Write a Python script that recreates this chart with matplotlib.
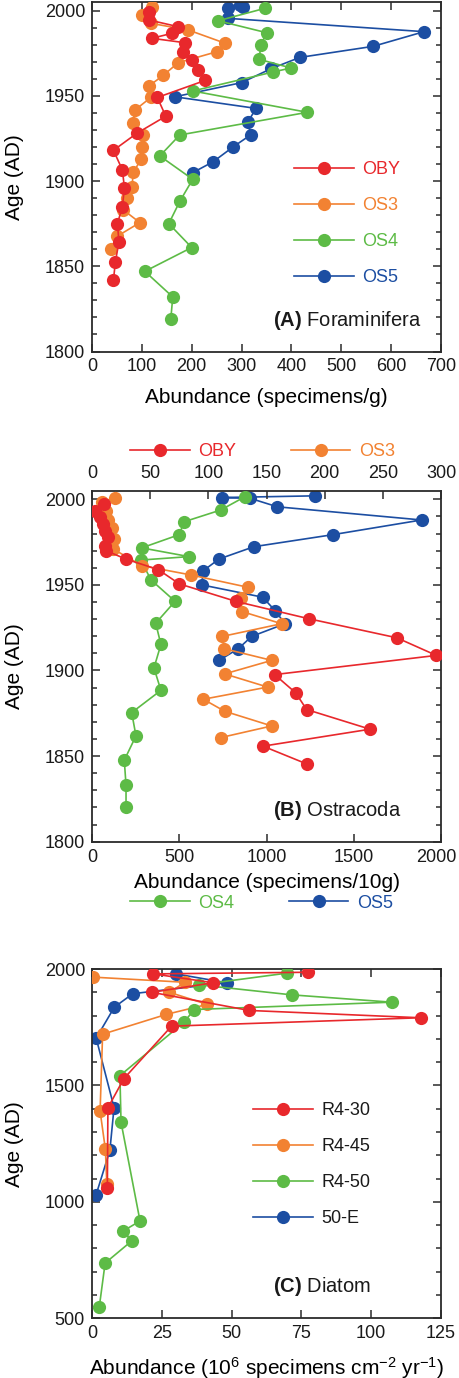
import matplotlib
matplotlib.use('Agg')
import matplotlib.pyplot as plt
from matplotlib.ticker import MultipleLocator
from matplotlib.transforms import ScaledTranslation

plt.rcParams['font.family'] = ['Liberation Sans', 'DejaVu Sans']
plt.rcParams['mathtext.fontset'] = 'custom'
plt.rcParams['mathtext.rm'] = 'Liberation Sans'
plt.rcParams['mathtext.it'] = 'Liberation Sans:italic'
plt.rcParams['mathtext.bf'] = 'Liberation Sans:bold'

# ---------------- data ----------------
# Panel A: Foraminifera (specimens/g)
oby_a_age = [1999.3, 1994.4, 1990.5, 1986.6, 1983.7, 1981.1, 1975.8, 1971, 1965, 1959, 1949, 1938,
             1928, 1918, 1906.5, 1896, 1885, 1875, 1864.4, 1852.7, 1842]
oby_a_val = [115, 115, 173, 160, 120, 187, 183, 200, 213, 227, 131, 148,
             90, 43, 61, 65, 61, 51, 54, 47, 43]
os3_a_age = [2001.9, 1997.4, 1992.5, 1988.6, 1980.8, 1975.8, 1969.4, 1962, 1955.7, 1949, 1941.6,
             1934.2, 1927, 1920, 1912.7, 1905, 1896.7, 1890, 1883, 1875.6, 1867.7, 1860]
os3_a_val = [120, 100, 118, 193, 267, 250, 173, 143, 114, 118, 86,
             82, 103, 100, 98, 83, 80, 70, 63, 96, 51, 38]
os4_a_age = [2001.3, 1994, 1987, 1979.8, 1971.4, 1966.3, 1964, 1952.8, 1940.3, 1927, 1914.7,
             1901, 1888, 1875, 1861, 1847, 1832, 1819]
os4_a_val = [347, 253, 350, 339, 335, 399, 364, 202, 432, 176, 136,
             202, 176, 154, 200, 106, 162, 158]
os5_a_age = [2003.2, 2001.9, 2001.3, 1995.4, 1987.6, 1979, 1972.5, 1966, 1957.7, 1949.4, 1942.6,
             1934.8, 1927, 1920, 1911.3, 1904.9]
os5_a_val = [297, 303, 273, 273, 666, 564, 417, 360, 300, 166, 329,
             313, 318, 283, 243, 202]

# Panel B: Ostracoda (specimens/10g); OBY & OS3 on top axis, OS4 & OS5 on bottom axis
oby_b_age = [1997.2, 1993.3, 1989.4, 1985.5, 1981.6, 1977.7, 1972.9, 1970, 1965.1, 1958.9, 1950.6,
             1940.3, 1930.2, 1919.1, 1908.8, 1897.6, 1887, 1877.2, 1865.7, 1855.8, 1845.3]
oby_b_val = [10.6, 2.6, 6.9, 9.7, 11.2, 14, 11.2, 12, 29, 57, 75,
             124, 186.5, 262, 296, 157, 175, 184.5, 239, 147, 185]
os3_b_age = [2001, 1998.5, 1993, 1988, 1983, 1977, 1971, 1961.2, 1955.8, 1948.6, 1942.4,
             1934.4, 1927.3, 1919.9, 1912.7, 1905.9, 1898, 1890.3, 1883.2, 1876.2, 1867.6, 1860.8]
os3_b_val = [19.5, 9, 12, 14, 17, 19, 18, 43, 85, 134, 128,
             129, 163, 112, 113.7, 154.5, 114, 151, 95.7, 114, 154.5, 110.6]
os4_b_age = [2001.5, 1993.7, 1986.9, 1979.3, 1971.6, 1966.5, 1964.5, 1952.9, 1940.4, 1927.6,
             1915.2, 1901.5, 1888.4, 1875.4, 1861.8, 1847.6, 1833, 1820]
os4_b_val = [877, 737, 529, 499, 285, 556, 280, 338, 476, 365,
             395, 355, 395, 227.5, 252, 185, 195, 195]
os5_b_age = [2002, 2001, 2000.6, 1995.6, 1987.9, 1979.3, 1972.3, 1965.1, 1958.3, 1950, 1942.8,
             1935, 1927.3, 1919.9, 1912.7, 1905.9]
os5_b_val = [1278, 743, 905, 1062, 1889, 1379, 928, 728, 638, 628.5, 978,
             1049, 1106, 915, 838, 728]

# Panel C: Diatom (10^6 specimens cm^-2 yr^-1)
r430_age = [1986, 1979, 1941, 1900, 1822, 1790.6, 1754.6, 1529, 1404, 1059]
r430_val = [77.5, 22, 43.4, 21.4, 56.3, 117.7, 28.5, 11.4, 5.7, 5.5]
r445_age = [1965, 1943, 1900, 1848, 1805, 1720, 1390, 1225, 1078]
r445_val = [0.5, 33.3, 27.7, 41.3, 26.6, 3.8, 2.9, 4.8, 5.3]
r450_age = [1982, 1932, 1889, 1857.5, 1826, 1772, 1542, 1342, 918, 875, 832, 737, 548]
r450_val = [69.7, 38.3, 71.5, 107.3, 36.6, 33, 10, 10.4, 17.2, 11.2, 14.2, 4.7, 2.6]
e50_age = [1979, 1941, 1894, 1836, 1703, 1405, 1221, 1028]
e50_val = [30, 48.2, 14.6, 8, 1.5, 7.9, 6.4, 1.4]

labels_ab = ['OBY', 'OS3', 'OS4', 'OS5']
labels_c = ['R4-30', 'R4-45', 'R4-50', '50-E']
ticks_b_bottom = [0, 500, 1000, 1500, 2000]

RED, ORANGE, GREEN, BLUE = '#E8282C', '#F28232', '#5DBB46', '#1C4EA2'
AXC = '#2b2b2b'
TXT = '#1a1a1a'

# ---------------- figure ----------------
W, H = 459, 1378
fig = plt.figure(figsize=(W / 100, H / 100), dpi=100)


def px_axes(left, top, right, bottom):
    return fig.add_axes([left / W, 1 - bottom / H, (right - left) / W, (bottom - top) / H])


def style(ax, top=True):
    ax.tick_params(which='both', direction='in', top=top, right=True, labelsize=13,
                   width=1.1, color=AXC, labelcolor=TXT, pad=5)
    ax.tick_params(which='major', length=6)
    ax.tick_params(which='minor', length=3.5)
    for s in ax.spines.values():
        s.set_linewidth(1.3)
        s.set_color(AXC)


kw = dict(marker='o', ms=9.5, lw=1.2, mew=0)


def ser(ax, x, y, c, lab, z):
    return ax.plot(x, y, color=c, label=lab, zorder=z, **kw)[0]


# ---- Panel A ----
axA = px_axes(92, 2, 441, 351.5)
hA = [ser(axA, oby_a_val, oby_a_age, RED, labels_ab[0], 5),
      ser(axA, os3_a_val, os3_a_age, ORANGE, labels_ab[1], 3),
      ser(axA, os4_a_val, os4_a_age, GREEN, labels_ab[2], 4),
      ser(axA, os5_a_val, os5_a_age, BLUE, labels_ab[3], 2)]
axA.set_xlim(0, 700)
axA.set_ylim(1800, 2005)
axA.xaxis.set_major_locator(MultipleLocator(100))
axA.yaxis.set_major_locator(MultipleLocator(50))
axA.yaxis.set_minor_locator(MultipleLocator(10))
style(axA)
axA.set_xlabel('Abundance (specimens/g)', fontsize=15, labelpad=9)
axA.set_ylabel('Age (AD)', fontsize=15)
axA.yaxis.set_label_coords(-0.195, 0.5)
axA.legend(handles=hA, loc='center left', bbox_to_anchor=(294 / W, 1 - 223.7 / H),
           bbox_transform=fig.transFigure, frameon=False, fontsize=13, handlelength=3.3,
           handletextpad=0.5, labelspacing=1.05, borderpad=0, borderaxespad=0,
           labelcolor='linecolor', numpoints=1)
fig.text(273 / W, 1 - 320.7 / H, r'$\mathbf{(A)}$ Foraminifera', fontsize=14.5,
         ha='left', va='center', color=TXT)

# ---- Panel B ----
axB = px_axes(92, 490.7, 441, 841.7)
hB4 = ser(axB, os4_b_val, os4_b_age, GREEN, labels_ab[2], 4)
hB5 = ser(axB, os5_b_val, os5_b_age, BLUE, labels_ab[3], 2)
axB.set_xlim(0, 2000)
axB.set_ylim(1800, 2005)
axB.set_xticks(ticks_b_bottom)
axB.set_xticklabels([str(t) for t in ticks_b_bottom])
axB.yaxis.set_major_locator(MultipleLocator(50))
axB.yaxis.set_minor_locator(MultipleLocator(10))
style(axB)
# nudge the last bottom tick label inward so it stays inside the figure
last = axB.get_xticklabels()[-1]
last.set_transform(last.get_transform() + ScaledTranslation(-0.05, 0, fig.dpi_scale_trans))
axB.set_xlabel('Abundance (specimens/10g)', fontsize=15, labelpad=5)
axB.set_ylabel('Age (AD)', fontsize=15)
axB.yaxis.set_label_coords(-0.195, 0.5)

axB2 = axB.twiny()
hB1 = ser(axB2, oby_b_val, oby_b_age, RED, labels_ab[0], 5)
hB3 = ser(axB2, os3_b_val, os3_b_age, ORANGE, labels_ab[1], 3)
axB2.set_xlim(0, 300)
axB2.xaxis.set_major_locator(MultipleLocator(50))
axB2.tick_params(which='both', direction='in', top=True, bottom=False, labelsize=13,
                 width=1.1, color=AXC, labelcolor=TXT, pad=6, length=6)
for s in axB2.spines.values():
    s.set_visible(False)

leg_kw = dict(frameon=False, fontsize=13, handlelength=3.3, handletextpad=0.5,
              columnspacing=3.0, borderpad=0, borderaxespad=0, numpoints=1, ncol=2,
              labelcolor='linecolor', bbox_transform=fig.transFigure, loc='center left')
legTop = axB2.legend(handles=[hB1, hB3], bbox_to_anchor=(130 / W, 1 - 451.7 / H), **leg_kw)
legBot = fig.legend(handles=[hB4, hB5], bbox_to_anchor=(130 / W, 1 - 903 / H), **leg_kw)
fig.text(273 / W, 1 - 811 / H, r'$\mathbf{(B)}$ Ostracoda', fontsize=14.5,
         ha='left', va='center', color=TXT)

# ---- Panel C ----
axC = px_axes(92, 969, 441, 1318.3)
hC = [ser(axC, r430_val, r430_age, RED, labels_c[0], 5),
      ser(axC, r445_val, r445_age, ORANGE, labels_c[1], 3),
      ser(axC, r450_val, r450_age, GREEN, labels_c[2], 4),
      ser(axC, e50_val, e50_age, BLUE, labels_c[3], 2)]
axC.set_xlim(0, 125)
axC.set_ylim(500, 2000)
axC.xaxis.set_major_locator(MultipleLocator(25))
axC.yaxis.set_major_locator(MultipleLocator(500))
axC.yaxis.set_minor_locator(MultipleLocator(100))
style(axC)
axC.set_xlabel(r'Abundance (10$^{6}$ specimens cm$^{-2}$ yr$^{-1}$)', fontsize=15, labelpad=9)
axC.set_ylabel('Age (AD)', fontsize=15)
axC.yaxis.set_label_coords(-0.195, 0.5)
axC.legend(handles=hC, loc='center left', bbox_to_anchor=(253 / W, 1 - 1164.7 / H),
           bbox_transform=fig.transFigure, frameon=False, fontsize=13, handlelength=3.3,
           handletextpad=0.5, labelspacing=1.05, borderpad=0, borderaxespad=0,
           labelcolor=TXT, numpoints=1)
fig.text(273 / W, 1 - 1286.7 / H, r'$\mathbf{(C)}$ Diatom', fontsize=14.5,
         ha='left', va='center', color=TXT)

fig.savefig('out.png', dpi=100)
